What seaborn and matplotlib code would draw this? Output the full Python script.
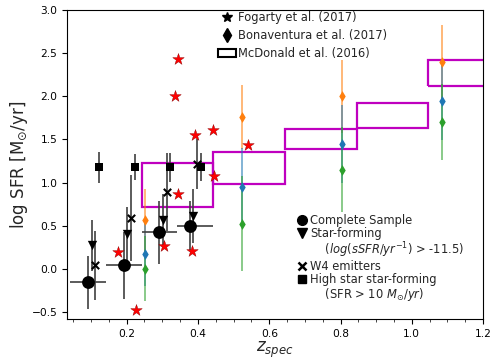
import numpy as np
import pandas as pd
import matplotlib
matplotlib.use("Agg")
import matplotlib.pyplot as plt
from matplotlib.lines import Line2D
from matplotlib.patches import Patch, Rectangle
from matplotlib.ticker import MultipleLocator
import seaborn as sns

# ---------------- data ----------------
# Complete sample (circles)
z_complete = [0.092, 0.192, 0.291, 0.379]
zerr_complete_lo = [0.051, 0.050, 0.049, 0.037]
zerr_complete_hi = [0.049, 0.050, 0.051, 0.063]
sfr_complete = [-0.16, 0.04, 0.42, 0.49]
sfrerr_complete = [0.31, 0.39, 0.37, 0.29]

# Star-forming (triangles)
z_sf = [0.102, 0.202, 0.303, 0.387]
sfr_sf = [0.27, 0.40, 0.57, 0.61]
sfrerr_sf = [0.30, 0.32, 0.30, 0.31]

# W4 emitters (x)
z_w4 = [0.111, 0.212, 0.312, 0.396]
sfr_w4 = [0.04, 0.59, 0.89, 1.21]
sfrerr_w4 = [0.40, 0.50, 0.45, 0.29]

# High SFR (squares)
z_high = [0.122, 0.222, 0.321, 0.408]
sfr_high = [1.175, 1.18, 1.175, 1.18]
sfrerr_high = [0.18, 0.155, 0.17, 0.16]

# Fogarty et al. (2017) stars
z_fog = [0.345, 0.337, 0.391, 0.442, 0.539, 0.444, 0.345, 0.177, 0.226, 0.306, 0.384]
sfr_fog = [2.43, 2.00, 1.55, 1.61, 1.43, 1.08, 0.865, 0.196, -0.48, 0.266, 0.208]

# Bonaventura et al. (2017)
z_bon = [0.252, 0.523, 0.803, 1.084]
sfr_bon_orange = [0.57, 1.76, 2.00, 2.40]
err_bon_orange = [0.36, 0.37, 0.42, 0.43]
sfr_bon_blue = [0.17, 0.95, 1.45, 1.94]
err_bon_blue = [0.37, 0.45, 0.45, 0.45]
sfr_bon_green = [0.00, 0.52, 1.15, 1.70]
err_bon_green = [0.38, 0.55, 0.49, 0.44]

# McDonald et al. (2016) boxes
mcd_z_lo = [0.242, 0.443, 0.644, 0.845, 1.045]
mcd_z_hi = [0.443, 0.644, 0.845, 1.045, 1.25]
mcd_sfr_lo = [0.71, 0.985, 1.39, 1.635, 2.12]
mcd_sfr_hi = [1.23, 1.35, 1.62, 1.925, 2.42]

# legend texts
legend_top_labels = ['Fogarty et al. (2017)', 'Bonaventura et al. (2017)',
                     'McDonald et al. (2016)']
legend_bottom_labels = ['Complete Sample', 'Star-forming',
                        '    ($log(sSFR/yr^{-1})$ > -11.5)', 'W4 emitters',
                        'High star star-forming', '    (SFR > 10 $M_{\\odot}/yr$)']

# ---------------- style ----------------
sns.set_style("ticks")
plt.rcParams['font.family'] = ['DejaVu Sans']
plt.rcParams['mathtext.fontset'] = 'dejavusans'

fig = plt.figure(figsize=(4.9, 3.61), dpi=100)
ax = fig.add_axes([0.137, 0.116, 0.849, 0.856])

ecol = '0.25'
# McDonald boxes
for zl, zh, yl, yh in zip(mcd_z_lo, mcd_z_hi, mcd_sfr_lo, mcd_sfr_hi):
    ax.add_patch(Rectangle((zl, yl), zh - zl, yh - yl, fill=False,
                           edgecolor='m', lw=1.6, zorder=2))

# Bonaventura
for y, e, c in [(sfr_bon_orange, err_bon_orange, 'C1'),
                (sfr_bon_blue, err_bon_blue, 'C0'),
                (sfr_bon_green, err_bon_green, 'C2')]:
    ax.errorbar(z_bon, y, yerr=e, fmt='none', ecolor=c, alpha=0.65, lw=1.2, zorder=3)
    sns.scatterplot(x=z_bon, y=y, marker='d', color=c, s=30, linewidth=0,
                    ax=ax, zorder=4)

# black samples
ax.errorbar(z_complete, sfr_complete, yerr=sfrerr_complete,
            xerr=[zerr_complete_lo, zerr_complete_hi], fmt='none', ecolor=ecol,
            lw=1.2, zorder=3)
ax.errorbar(z_sf, sfr_sf, yerr=sfrerr_sf, fmt='none', ecolor=ecol, lw=1.2, zorder=3)
ax.errorbar(z_w4, sfr_w4, yerr=sfrerr_w4, fmt='none', ecolor=ecol, lw=1.2, zorder=3)
ax.errorbar(z_high, sfr_high, yerr=sfrerr_high, fmt='none', ecolor=ecol, lw=1.2, zorder=3)

sns.scatterplot(x=z_complete, y=sfr_complete, marker='o', color='k', s=85,
                linewidth=0, ax=ax, zorder=5)
sns.scatterplot(x=z_sf, y=sfr_sf, marker='v', color='k', s=45,
                linewidth=0, ax=ax, zorder=5)
sns.scatterplot(x=z_w4, y=sfr_w4, marker='x', color='k', s=28,
                linewidth=1.5, ax=ax, zorder=5)
sns.scatterplot(x=z_high, y=sfr_high, marker='s', color='k', s=38,
                linewidth=0, ax=ax, zorder=5)

# Fogarty stars
sns.scatterplot(x=z_fog, y=sfr_fog, marker='*', color='red', s=75,
                linewidth=0.3, edgecolor='darkred', ax=ax, zorder=6)

ax.set_xlim(0.033, 1.2)
ax.set_ylim(-0.585, 3.0)
ax.xaxis.set_major_locator(MultipleLocator(0.2))
ax.xaxis.set_minor_locator(MultipleLocator(0.05))
ax.yaxis.set_major_locator(MultipleLocator(0.5))
ax.tick_params(axis='both', which='major', labelsize=7.7, length=3.5, width=0.8,
               direction='out', colors='k')
ax.tick_params(axis='x', which='minor', length=2, width=0.6, direction='out')
for s in ax.spines.values():
    s.set_visible(True)
    s.set_linewidth(0.8)
    s.set_color('k')

ax.set_xlabel(r'$z_{spec}$', fontsize=12, labelpad=1)
ax.set_ylabel(r'log SFR [M$_{\odot}$/yr]', fontsize=12, labelpad=1)

# upper legend
h1 = [Line2D([], [], marker='*', color='k', ls='none', ms=7),
      Line2D([], [], marker='d', color='k', ls='none', ms=7),
      Patch(facecolor='white', edgecolor='k', lw=1.5)]
leg1 = ax.legend(h1, legend_top_labels, loc='upper left', bbox_to_anchor=(0.361, 1.0),
                 frameon=False, fontsize=8.3, handlelength=1.6, handletextpad=0.15,
                 borderpad=0.05, borderaxespad=0.0, labelspacing=0.45)
ax.add_artist(leg1)

blank = Line2D([], [], ls='none', marker=None)
h2 = [Line2D([], [], marker='o', color='k', ls='none', ms=7),
      Line2D([], [], marker='v', color='k', ls='none', ms=7),
      blank,
      Line2D([], [], marker='x', color='k', ls='none', ms=6, mew=1.8),
      Line2D([], [], marker='s', color='k', ls='none', ms=6),
      blank]
ax.legend(h2, legend_bottom_labels, loc='upper left', bbox_to_anchor=(0.553, 0.34),
          frameon=False, fontsize=8.3, handlelength=0.8, handletextpad=0.3,
          borderpad=0.0, borderaxespad=0.0, labelspacing=0.0)

fig.savefig('out.png', dpi=100)
